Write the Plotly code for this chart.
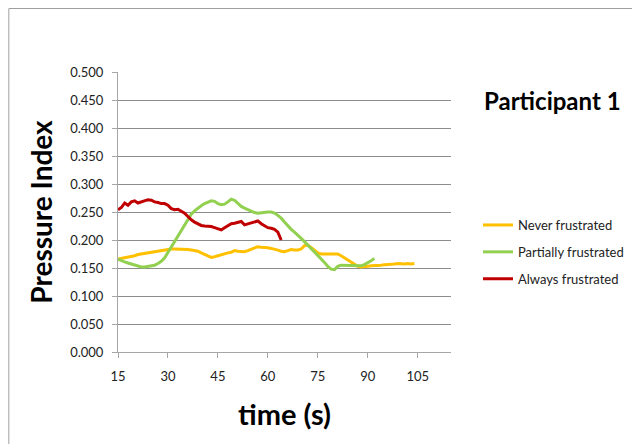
import plotly.graph_objects as go

# ---- data ----
never_t = list(range(15, 105))
never_v = [0.166, 0.167, 0.168, 0.170, 0.171, 0.172, 0.174, 0.175, 0.177, 0.177,
           0.178, 0.180, 0.181, 0.181, 0.182, 0.183, 0.184, 0.184, 0.184, 0.184,
           0.183, 0.183, 0.182, 0.181, 0.180, 0.177, 0.174, 0.171, 0.169, 0.170,
           0.172, 0.174, 0.175, 0.177, 0.178, 0.181, 0.180, 0.179, 0.179, 0.181,
           0.183, 0.186, 0.188, 0.187, 0.187, 0.186, 0.185, 0.184, 0.182, 0.180,
           0.179, 0.181, 0.183, 0.182, 0.182, 0.184, 0.190, 0.191, 0.187, 0.182,
           0.177, 0.175, 0.175, 0.175, 0.175, 0.175, 0.175, 0.172, 0.168, 0.164,
           0.160, 0.156, 0.153, 0.152, 0.152, 0.153, 0.154, 0.154, 0.154, 0.155,
           0.156, 0.156, 0.157, 0.157, 0.158, 0.157, 0.157, 0.158, 0.157, 0.158]

partial_t = list(range(15, 93))
partial_v = [0.166, 0.163, 0.161, 0.159, 0.157, 0.155, 0.153, 0.152, 0.152, 0.153,
             0.154, 0.155, 0.158, 0.162, 0.168, 0.178, 0.188, 0.198, 0.208, 0.218,
             0.228, 0.238, 0.246, 0.252, 0.257, 0.261, 0.265, 0.268, 0.270, 0.269,
             0.265, 0.263, 0.264, 0.268, 0.273, 0.271, 0.265, 0.260, 0.257, 0.254,
             0.251, 0.249, 0.248, 0.249, 0.249, 0.250, 0.250, 0.248, 0.244, 0.239,
             0.232, 0.225, 0.219, 0.214, 0.209, 0.203, 0.197, 0.191, 0.185, 0.179,
             0.173, 0.167, 0.160, 0.153, 0.148, 0.147, 0.153, 0.155, 0.155, 0.155,
             0.154, 0.154, 0.154, 0.154, 0.156, 0.159, 0.163, 0.167]

always_t = list(range(15, 65))
always_v = [0.254, 0.258, 0.266, 0.262, 0.268, 0.270, 0.266, 0.268, 0.270, 0.272,
            0.271, 0.268, 0.267, 0.265, 0.265, 0.262, 0.256, 0.254, 0.255, 0.252,
            0.248, 0.242, 0.236, 0.232, 0.229, 0.226, 0.225, 0.225, 0.224, 0.222,
            0.220, 0.218, 0.222, 0.226, 0.229, 0.230, 0.232, 0.233, 0.227, 0.229,
            0.230, 0.232, 0.234, 0.229, 0.225, 0.222, 0.221, 0.219, 0.214, 0.200]

series_names = ["Never frustrated", "Partially frustrated", "Always frustrated"]
series_colors = ["#FFC000", "#92D050", "#C00000"]

x_ticks = [15, 30, 45, 60, 75, 90, 105]
y_ticks = [0.0, 0.05, 0.1, 0.15, 0.2, 0.25, 0.3, 0.35, 0.4, 0.45, 0.5]
y_ticklabels = [f"{v:.3f}" for v in y_ticks]

FONT = "Lato"

fig = go.Figure()
for i, (t, v) in enumerate([(never_t, never_v), (partial_t, partial_v), (always_t, always_v)]):
    fig.add_trace(go.Scatter(
        x=t, y=v, mode="lines", name=series_names[i],
        legendgroup=series_names[i],
        line=dict(color=series_colors[i], width=3),
    ))

# page body has an 8px margin; work in page pixels and convert
O = 8
W, H = 632, 436
L, R, T, B = 118 - O, W - (452 - O), 72 - O, H - (352 - O)
pw, ph = W - L - R, H - T - B

def px_x(x):
    return (x - O - L) / pw

def px_y(y):
    return (H - B - (y - O)) / ph

fig.update_layout(
    width=W, height=H,
    margin=dict(l=L, r=R, t=T, b=B),
    paper_bgcolor="white", plot_bgcolor="white",
    font=dict(family=FONT, color="#222222", size=13),
    showlegend=True,
    legend=dict(
        x=px_x(478), y=px_y(210), xanchor="left", yanchor="top",
        font=dict(family=FONT, size=13, color="#222222"),
        tracegroupgap=7, bgcolor="rgba(0,0,0,0)",
    ),
    xaxis=dict(
        range=[15, 115], tickmode="array", tickvals=x_ticks,
        ticktext=[str(v) for v in x_ticks],
        showgrid=False, zeroline=False,
        showline=True, linecolor="#A6A6A6", linewidth=1,
        ticks="outside", ticklen=5, tickcolor="#A6A6A6",
        ticklabelstandoff=7,
        tickfont=dict(family=FONT, size=13, color="#222222"),
        title=dict(text="<b>time (s)</b>", font=dict(family=FONT, size=29, color="#000000"), standoff=22),
    ),
    yaxis=dict(
        range=[0, 0.5], tickmode="array", tickvals=y_ticks, ticktext=y_ticklabels,
        showgrid=True, gridcolor="#8C8C8C", gridwidth=1,
        zeroline=False,
        showline=True, linecolor="#A6A6A6", linewidth=1,
        ticks="outside", ticklen=5, tickcolor="#A6A6A6",
        ticklabelstandoff=6,
        tickfont=dict(family=FONT, size=13, color="#222222"),
        title=dict(text="<b>Pressure Index</b>", font=dict(family=FONT, size=28, color="#000000"), standoff=9),
    ),
    annotations=[dict(
        text="<b>Participant 1</b>", xref="paper", yref="paper",
        x=px_x(554), y=px_y(100), xanchor="center", yanchor="middle",
        showarrow=False, font=dict(family=FONT, size=24, color="#000000"),
    )],
    shapes=[dict(
        type="rect", xref="paper", yref="paper",
        x0=px_x(O + 0.5), y0=px_y(470), x1=px_x(700), y1=px_y(O + 0.5),
        line=dict(color="#A0A0A0", width=1), fillcolor="rgba(0,0,0,0)", layer="below",
    )],
)

fig.write_html("out.html")
